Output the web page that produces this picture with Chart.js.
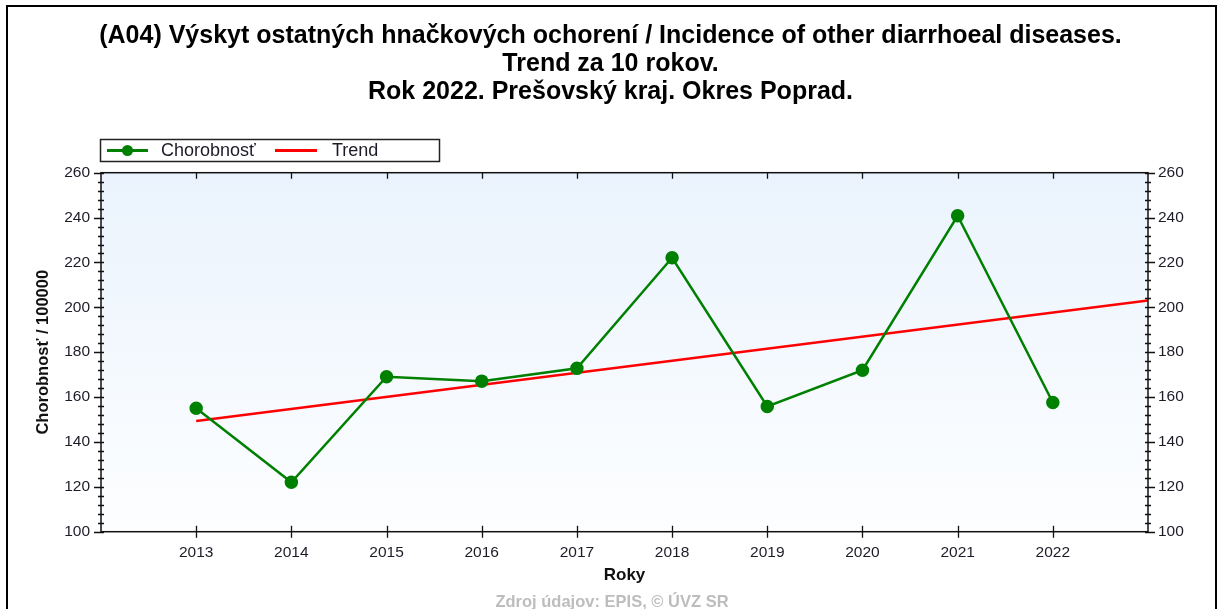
<!DOCTYPE html>
<html>
<head>
<meta charset="utf-8">
<title>A04 - Okres Poprad</title>
<script src="https://cdn.jsdelivr.net/npm/chart.js@4.4.1/dist/chart.umd.min.js"></script>
<style>
    html, body { margin: 0; padding: 0; background: #fff; }
    canvas { display: block; }
</style>
</head>
<body>
<canvas id="trendChart" width="1221" height="609"></canvas>
<script>
// ── Data ──
const years = [2013, 2014, 2015, 2016, 2017, 2018, 2019, 2020, 2021, 2022];
const incidence = [155.0, 122.0, 169.1, 167.1, 172.8, 222.1, 155.8, 172.0, 240.8, 157.6];
const trendYears = [2013, 2023];
const trendValues = [149.3, 203.0];
const titleLines = [
    "(A04) Výskyt ostatných hnačkových ochorení / Incidence of other diarrhoeal diseases.",
    "Trend za 10 rokov.",
    "Rok 2022. Prešovský kraj. Okres Poprad."
];
const yAxisTitle = "Chorobnosť / 100000";
const xAxisTitle = "Roky";
const sourceNote = "Zdroj údajov: EPIS, © ÚVZ SR";
const xMin = 2012, xMax = 2023;
const yMin = 100, yMax = 260, yStep = 20, yMinorStep = 4;

const FONT = "Arial, 'Liberation Sans', sans-serif";
const TEXT = "#1c1c28";

// ── Plugins ──
const plotBackground = {
    id: "plotBackground",
    beforeDraw(chart) {
        const ctx = chart.ctx, ca = chart.chartArea;
        ctx.save();
        ctx.fillStyle = "#fff";
        ctx.fillRect(0, 0, chart.width, chart.height);
        const g = ctx.createLinearGradient(0, ca.top, 0, ca.bottom);
        g.addColorStop(0, "#eaf3fd");
        g.addColorStop(1, "#fdfeff");
        ctx.fillStyle = g;
        ctx.fillRect(ca.left, ca.top, ca.right - ca.left, ca.bottom - ca.top);
        ctx.restore();
    }
};

const axisFrame = {
    id: "axisFrame",
    afterDraw(chart) {
        const ctx = chart.ctx, ca = chart.chartArea;
        const x = chart.scales.x, y = chart.scales.y;
        ctx.save();
        // page frame
        ctx.strokeStyle = "#000";
        ctx.lineWidth = 2;
        ctx.strokeRect(7, 6, 1209, 700);

        // plot box
        ctx.strokeStyle = "#111";
        ctx.lineWidth = 1.5;
        ctx.strokeRect(ca.left, ca.top, ca.right - ca.left, ca.bottom - ca.top);

        ctx.lineWidth = 1.3;
        ctx.beginPath();
        // y ticks, left and right
        for (let v = yMin; v <= yMax; v += yMinorStep) {
            const py = Math.round(y.getPixelForValue(v)) + 0.5;
            const major = (v - yMin) % yStep === 0;
            ctx.moveTo(ca.left - (major ? 7 : 3), py);
            ctx.lineTo(ca.left + 3, py);
            ctx.moveTo(ca.right - 3, py);
            ctx.lineTo(ca.right + (major ? 7 : 3), py);
        }
        // x ticks, bottom and top
        years.forEach(function (yr) {
            const px = Math.round(x.getPixelForValue(yr)) + 0.5;
            ctx.moveTo(px, ca.bottom - 6);
            ctx.lineTo(px, ca.bottom + 6);
            ctx.moveTo(px, ca.top);
            ctx.lineTo(px, ca.top + 6);
        });
        ctx.stroke();

        // source note
        ctx.fillStyle = "#bdbdbd";
        ctx.font = "bold 16.5px " + FONT;
        ctx.textAlign = "center";
        ctx.textBaseline = "middle";
        ctx.fillText(sourceNote, 612, 602);
        ctx.restore();
    }
};

const boxedLegend = {
    id: "boxedLegend",
    afterDraw(chart) {
        const ctx = chart.ctx;
        const sets = chart.data.datasets;
        const box = { left: 100.5, top: 139.5, width: 339, height: 22 };
        const cy = box.top + box.height / 2;
        const items = [
            { lineFrom: 107, lineTo: 148, textX: 161 },
            { lineFrom: 275, lineTo: 317, textX: 332 }
        ];
        ctx.save();
        ctx.fillStyle = "#fff";
        ctx.fillRect(box.left, box.top, box.width, box.height);
        ctx.strokeStyle = "#222";
        ctx.lineWidth = 1.5;
        ctx.strokeRect(box.left, box.top, box.width, box.height);
        ctx.font = "18px " + FONT;
        ctx.textBaseline = "middle";
        ctx.textAlign = "left";
        sets.forEach(function (ds, i) {
            const it = items[i];
            ctx.strokeStyle = ds.borderColor;
            ctx.lineWidth = 3;
            ctx.beginPath();
            ctx.moveTo(it.lineFrom, cy);
            ctx.lineTo(it.lineTo, cy);
            ctx.stroke();
            if (ds.pointRadius > 0) {
                ctx.fillStyle = ds.pointBackgroundColor;
                ctx.beginPath();
                ctx.arc((it.lineFrom + it.lineTo) / 2, cy, 5.5, 0, Math.PI * 2);
                ctx.fill();
            }
            ctx.fillStyle = TEXT;
            ctx.fillText(ds.label, it.textX, cy + 1);
        });
        ctx.restore();
    }
};

// ── Chart ──
new Chart(document.getElementById("trendChart"), {
    type: "line",
    data: {
        datasets: [
            {
                label: "Chorobnosť",
                data: years.map(function (yr, i) { return { x: yr, y: incidence[i] }; }),
                borderColor: "#008000",
                backgroundColor: "#008000",
                pointBackgroundColor: "#008000",
                pointBorderColor: "#008000",
                borderWidth: 2.5,
                pointRadius: 5.5,
                tension: 0
            },
            {
                label: "Trend",
                data: trendYears.map(function (yr, i) { return { x: yr, y: trendValues[i] }; }),
                borderColor: "#ff0000",
                backgroundColor: "#ff0000",
                borderWidth: 2.5,
                pointRadius: 0,
                tension: 0
            }
        ]
    },
    options: {
        responsive: false,
        animation: false,
        devicePixelRatio: 1,
        layout: { padding: 0 },
        scales: {
            x: {
                type: "linear",
                position: "bottom",
                min: xMin,
                max: xMax,
                afterFit: function (s) { s.height = 77.3; },
                grid: { display: false, drawTicks: false, tickLength: 0 },
                border: { display: false },
                ticks: {
                    stepSize: 1,
                    autoSkip: false,
                    maxRotation: 0,
                    padding: 12,
                    color: TEXT,
                    font: { family: FONT, size: 15.5 },
                    callback: function (v) {
                        return (v >= years[0] && v <= years[years.length - 1]) ? String(v) : "";
                    }
                },
                title: {
                    display: true,
                    text: xAxisTitle,
                    color: "#111",
                    font: { family: FONT, size: 17, weight: "bold" },
                    padding: { top: 0, bottom: 23.8 }
                }
            },
            y: {
                position: "left",
                min: yMin,
                max: yMax,
                afterFit: function (s) { s.width = 101; },
                grid: { display: false, drawTicks: false, tickLength: 0 },
                border: { display: false },
                ticks: {
                    stepSize: yStep,
                    padding: 11,
                    color: TEXT,
                    font: { family: FONT, size: 15.5 }
                },
                title: {
                    display: true,
                    text: yAxisTitle,
                    color: "#111",
                    font: { family: FONT, size: 16.5, weight: "bold" },
                    padding: { top: 34, bottom: 0 }
                }
            },
            y2: {
                position: "right",
                min: yMin,
                max: yMax,
                afterFit: function (s) { s.width = 73; },
                grid: { display: false, drawTicks: false, tickLength: 0 },
                border: { display: false },
                ticks: {
                    stepSize: yStep,
                    padding: 10,
                    color: TEXT,
                    font: { family: FONT, size: 15.5 }
                }
            }
        },
        plugins: {
            legend: { display: false },
            tooltip: { enabled: false },
            title: {
                display: true,
                text: titleLines,
                color: "#000",
                font: { family: FONT, size: 25, weight: "bold", lineHeight: "28px" },
                padding: { top: 22.5, bottom: 66.2 }
            }
        }
    },
    plugins: [plotBackground, axisFrame, boxedLegend]
});
</script>
</body>
</html>
